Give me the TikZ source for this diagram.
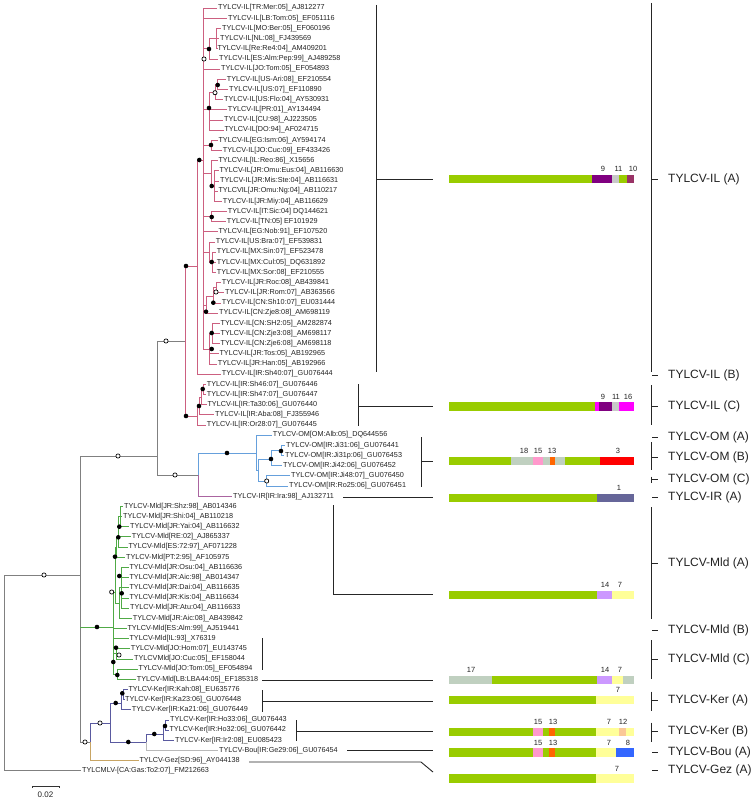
\documentclass[tikz,border=0pt]{standalone}
\usepackage{fontspec}
\setmainfont{Liberation Sans}
\definecolor{cIL}{RGB}{204,96,128}
\definecolor{cOM}{RGB}{102,160,220}
\definecolor{cIR}{RGB}{170,100,160}
\definecolor{cMld}{RGB}{80,170,70}
\definecolor{cKer}{RGB}{90,90,160}
\definecolor{cBou}{RGB}{185,185,185}
\definecolor{cGez}{RGB}{200,165,100}
\definecolor{cGr}{RGB}{128,128,128}
\definecolor{txt}{RGB}{35,35,35}
\definecolor{bGreen}{RGB}{153,204,0}
\definecolor{bPurple}{RGB}{128,0,128}
\definecolor{bLGrey}{RGB}{200,200,200}
\definecolor{bRasp}{RGB}{153,51,102}
\definecolor{bMag}{RGB}{255,0,255}
\definecolor{bGG}{RGB}{192,208,192}
\definecolor{bPink}{RGB}{255,153,204}
\definecolor{bOrange}{RGB}{255,102,0}
\definecolor{bRed}{RGB}{255,0,0}
\definecolor{bSlate}{RGB}{102,102,153}
\definecolor{bLav}{RGB}{204,153,255}
\definecolor{bYellow}{RGB}{255,255,153}
\definecolor{bPeach}{RGB}{250,200,150}
\definecolor{bBlue}{RGB}{51,102,255}
\newcommand\bseg[4]{\fill[#4] ({#1},{#3-4.2}) rectangle ({#2},{#3+4.2});}
\newcommand\lf[4]{\node[leaf] (#1) at ({#2-0.8},#3) {#4};}
\begin{document}
\begin{tikzpicture}[x=1pt,y=-1pt,
  leaf/.style={anchor=west,inner xsep=0.8pt,inner ysep=0pt,font=\fontsize{7.25}{8}\selectfont,text=txt},
  tr/.style={line width=0.75pt},
  fc/.style={circle,fill=black,inner sep=0pt,minimum size=4.6pt},
  oc/.style={circle,draw=black,fill=white,line width=0.7pt,inner sep=0pt,minimum size=4.2pt},
  cn/.style={line width=0.9pt,draw=black!85},
  grp/.style={anchor=west,inner sep=0pt,font=\fontsize{12}{14}\selectfont,text=txt},
  num/.style={inner sep=0pt,font=\fontsize{7.5}{9}\selectfont,text=txt}]
\useasboundingbox (0,0) rectangle (755,800);
\fill[white] (0,0) rectangle (755,800);

% ---------- leaves ----------
\lf{L1}{218}{8.0}{TYLCV-IL[TR:Mer:05]\_AJ812277}
\lf{L2}{228}{18.2}{TYLCV-IL[LB:Tom:05]\_EF051116}
\lf{L3}{222}{28.3}{TYLCV-IL[MO:Ber:05]\_EF060196}
\lf{L4}{220}{38.5}{TYLCV-IL[NL:08]\_FJ439569}
\lf{L5}{217.5}{48.7}{TYLCV-IL[Re:Re4:04]\_AM409201}
\lf{L6}{219}{58.9}{TYLCV-IL[ES:Alm:Pep:99]\_AJ489258}
\lf{L7}{221}{69.0}{TYLCV-IL[JO:Tom:05]\_EF054893}
\lf{L8}{226.7}{79.2}{TYLCV-IL[US-Ari:08]\_EF210554}
\lf{L9}{229}{89.4}{TYLCV-IL[US:07]\_EF110890}
\lf{L10}{224}{99.5}{TYLCV-IL[US:Flo:04]\_AY530931}
\lf{L11}{227.7}{109.7}{TYLCV-IL[PR:01]\_AY134494}
\lf{L12}{224}{119.9}{TYLCV-IL[CU:98]\_AJ223505}
\lf{L13}{224.3}{130.0}{TYLCV-IL[DO:94]\_AF024715}
\lf{L14}{218.3}{140.2}{TYLCV-IL[EG:Ism:06]\_AY594174}
\lf{L15}{222.7}{150.4}{TYLCV-IL[JO:Cuc:09]\_EF433426}
\lf{L16}{218.3}{160.6}{TYLCV-IL[IL:Reo:86]\_X15656}
\lf{L17}{219.3}{170.7}{TYLCV-IL[JR:Omu:Eus:04]\_AB116630}
\lf{L18}{220}{180.9}{TYLCV-IL[JR:Mis:Ste:04]\_AB116631}
\lf{L19}{218.3}{191.1}{TYLCVIL[JR:Omu:Ng:04]\_AB110217}
\lf{L20}{222.7}{201.2}{TYLCV-IL[JR:Miy:04]\_AB116629}
\lf{L21}{227.7}{211.4}{TYLCV-IL[IT:Sic:04] DQ144621}
\lf{L22}{226.7}{221.6}{TYLCV-IL[TN:05] EF101929}
\lf{L23}{218.3}{231.7}{TYLCV-IL[EG:Nob:91]\_EF107520}
\lf{L24}{215.7}{241.9}{TYLCV-IL[US:Bra:07]\_EF539831}
\lf{L25}{216.7}{252.1}{TYLCV-IL[MX:Sin:07]\_EF523478}
\lf{L26}{216.7}{262.3}{TYLCV-IL[MX:Cul:05]\_DQ631892}
\lf{L27}{216.7}{272.4}{TYLCV-IL[MX:Sor:08]\_EF210555}
\lf{L28}{221.7}{282.6}{TYLCV-IL[JR:Roc:08]\_AB439841}
\lf{L29}{225}{292.8}{TYLCV-IL[JR:Rom:07]\_AB363566}
\lf{L30}{221.7}{302.9}{TYLCV-IL[CN:Sh10:07]\_EU031444}
\lf{L31}{219}{313.1}{TYLCV-IL[CN:Zje8:08]\_AM698119}
\lf{L32}{220.5}{323.3}{TYLCV-IL[CN:SH2:05]\_AM282874}
\lf{L33}{220.5}{333.4}{TYLCV-IL[CN:Zje3:08]\_AM698117}
\lf{L34}{220.5}{343.6}{TYLCV-IL[CN:Zje6:08]\_AM698118}
\lf{L35}{219.3}{353.8}{TYLCV-IL[JR:Tos:05]\_AB192965}
\lf{L36}{217.7}{364.0}{TYLCV-IL[JR:Han:05]\_AB192966}
\lf{L37}{221.7}{374.1}{TYLCV-IL[IR:Sh40:07]\_GU076444}
\lf{L38}{206.7}{384.3}{TYLCV-IL[IR:Sh46:07]\_GU076446}
\lf{L39}{206.7}{394.5}{TYLCV-IL[IR:Sh47:07]\_GU076447}
\lf{L40}{207.3}{404.6}{TYLCV-IL[IR:Ta30:06]\_GU076440}
\lf{L41}{215}{414.8}{TYLCV-IL[IR:Aba:08]\_FJ355946}
\lf{L42}{206.7}{425.0}{TYLCV-IL[IR:Or28:07]\_GU076445}
\lf{L43}{272.7}{435.1}{TYLCV-OM[OM:Alb:05]\_DQ644556}
\lf{L44}{286}{445.3}{TYLCV-OM[IR:Ji31:06]\_GU076441}
\lf{L45}{285}{455.5}{TYLCV-OM[IR:Ji31p:06]\_GU076453}
\lf{L46}{283}{465.7}{TYLCV-OM[IR:Ji42:06]\_GU076452}
\lf{L47}{291}{475.8}{TYLCV-OM[IR:Ji48:07]\_GU076450}
\lf{L48}{289}{486.0}{TYLCV-OM[IR:Ro25:06]\_GU076451}
\lf{L49}{233}{496.2}{TYLCV-IR[IR:Ira:98]\_AJ132711}
\lf{L50}{124}{506.3}{TYLCV-Mld[JR:Shz:98]\_AB014346}
\lf{L51}{123}{516.5}{TYLCV-Mld[JR:Shi:04]\_AB110218}
\lf{L52}{130}{526.7}{TYLCV-Mld[JR:Yai:04]\_AB116632}
\lf{L53}{131.7}{536.8}{TYLCV-Mld[RE:02]\_AJ865337}
\lf{L54}{128.3}{547.0}{TYLCV-Mld[ES:72:97]\_AF071228}
\lf{L55}{126}{557.2}{TYLCV-Mld[PT:2:95]\_AF105975}
\lf{L56}{129.3}{567.4}{TYLCV-Mld[JR:Osu:04]\_AB116636}
\lf{L57}{129.3}{577.5}{TYLCV-Mld[JR:Aic:98]\_AB014347}
\lf{L58}{129.3}{587.7}{TYLCV-Mld[JR:Dai:04]\_AB116635}
\lf{L59}{129.3}{597.9}{TYLCV-Mld[JR:Kis:04]\_AB116634}
\lf{L60}{130}{608.0}{TYLCV-Mld[JR:Atu:04]\_AB116633}
\lf{L61}{132.7}{618.2}{TYLCV-Mld[JR:Aic:08]\_AB439842}
\lf{L62}{127.3}{628.4}{TYLCV-Mld[ES:Alm:99]\_AJ519441}
\lf{L63}{129.3}{638.5}{TYLCV-Mld[IL:93]\_X76319}
\lf{L64}{130.7}{648.7}{TYLCV-Mld[JO:Hom:07]\_EU143745}
\lf{L65}{134}{658.9}{TYLCVMld[JO:Cuc:05]\_EF158044}
\lf{L66}{138.5}{669.1}{TYLCV-Mld[JO:Tom:05]\_EF054894}
\lf{L67}{136.7}{679.2}{TYLCV-Mld[LB:LBA44:05]\_EF185318}
\lf{L68}{128.3}{689.4}{TYLCV-Ker[IR:Kah:08]\_EU635776}
\lf{L69}{125}{699.6}{TYLCV-Ker[IR:Ka23:06]\_GU076448}
\lf{L70}{131.7}{709.7}{TYLCV-Ker[IR:Ka21:06]\_GU076449}
\lf{L71}{170}{719.9}{TYLCV-Ker[IR:Ho33:06]\_GU076443}
\lf{L72}{169.3}{730.1}{TYLCV-Ker[IR:Ho32:06]\_GU076442}
\lf{L73}{175}{740.2}{TYLCV-Ker[IR:Ir2:08]\_EU085423}
\lf{L74}{219}{750.4}{TYLCV-Bou[IR:Ge29:06]\_GU076454}
\lf{L75}{139.3}{760.6}{TYLCV-Gez[SD:96]\_AY044138}
\lf{L76}{82}{770.8}{TYLCMLV-[CA:Gas:To2:07]\_FM212663}

% ---------- internal nodes ----------
\coordinate (R) at (4,575);
\coordinate (N80) at (80,575);
\coordinate (ILOMIR) at (157,456);
\coordinate (ILr) at (185,341);
\coordinate (ILAB) at (197,266);
\coordinate (ILA) at (203,160);
\coordinate (a1) at (209,48.7);
\coordinate (a1b) at (216.5,38.5);
\coordinate (b) at (209,109.7);
\coordinate (b1) at (215,92.5);
\coordinate (b2) at (217.7,84.3);
\coordinate (c) at (211,145.3);
\coordinate (d) at (211,173.3);
\coordinate (d1) at (214,186);
\coordinate (e) at (211.5,216.5);
\coordinate (f) at (209,252);
\coordinate (f1) at (212,262.3);
\coordinate (g) at (206,305);
\coordinate (g2) at (213,296);
\coordinate (g3) at (216,287.7);
\coordinate (h) at (209,349);
\coordinate (h1) at (212,333.4);
\coordinate (ILC) at (197,416);
\coordinate (c1) at (199,406);
\coordinate (c2) at (201,397);
\coordinate (c3) at (203,389.4);
\coordinate (OMIR) at (198,475);
\coordinate (OM) at (256,453);
\coordinate (om1) at (258,470);
\coordinate (om2) at (271,459);
\coordinate (om4) at (281,450.4);
\coordinate (om3) at (266.7,481);
\coordinate (Mld) at (113,627);
\coordinate (MldA) at (115,592);
\coordinate (m1) at (116.5,547);
\coordinate (m4) at (118.5,537);
\coordinate (m6) at (120.5,516.5);
\coordinate (m2) at (119,603);
\coordinate (m3) at (121,587.7);
\coordinate (MldC) at (113.5,666);
\coordinate (mc1) at (116,653.8);
\coordinate (mc2) at (117,674.2);
\coordinate (K) at (90,742);
\coordinate (K1) at (110,723);
\coordinate (KerA) at (121.7,703);
\coordinate (ka1) at (123.5,694.5);
\coordinate (KB) at (146.7,742);
\coordinate (KerB) at (163.3,734);
\coordinate (kb1) at (165.5,725);

% ---------- branches ----------
\begin{scope}[tr]
\draw[cGr] (R) |- (N80);
\draw[cGr] (R) |- (L76);
\draw[cGr] (N80) |- (ILOMIR);
\draw[cGr] (N80) |- (K);
\draw[cMld] (N80 |- Mld) -- (Mld);
\draw[cGr] (ILOMIR) |- (ILr);
\draw[cGr] (ILOMIR) |- (OMIR);
% IL
\foreach \c in {ILAB,ILC} \draw[cIL] (ILr) |- (\c);
\foreach \c in {ILA,L37} \draw[cIL] (ILAB) |- (\c);
\foreach \c in {L1,L2,a1,L7,b,c,d,e,L23,f,g,h} \draw[cIL] (ILA) |- (\c);
\foreach \c in {a1b,L6} \draw[cIL] (a1) |- (\c);
\foreach \c in {L3,L4,L5} \draw[cIL] (a1b) |- (\c);
\foreach \c in {b1,L11,L12,L13} \draw[cIL] (b) |- (\c);
\foreach \c in {b2,L10} \draw[cIL] (b1) |- (\c);
\foreach \c in {L8,L9} \draw[cIL] (b2) |- (\c);
\foreach \c in {L14,L15} \draw[cIL] (c) |- (\c);
\foreach \c in {L16,d1} \draw[cIL] (d) |- (\c);
\foreach \c in {L17,L18,L19,L20} \draw[cIL] (d1) |- (\c);
\foreach \c in {L21,L22} \draw[cIL] (e) |- (\c);
\foreach \c in {L24,f1} \draw[cIL] (f) |- (\c);
\foreach \c in {L25,L26,L27} \draw[cIL] (f1) |- (\c);
\foreach \c in {g2,L31} \draw[cIL] (g) |- (\c);
\foreach \c in {g3,L30} \draw[cIL] (g2) |- (\c);
\foreach \c in {L28,L29} \draw[cIL] (g3) |- (\c);
\foreach \c in {h1,L35,L36} \draw[cIL] (h) |- (\c);
\foreach \c in {L32,L33,L34} \draw[cIL] (h1) |- (\c);
\foreach \c in {c1,L42} \draw[cIL] (ILC) |- (\c);
\foreach \c in {c2,L41} \draw[cIL] (c1) |- (\c);
\foreach \c in {c3,L40} \draw[cIL] (c2) |- (\c);
\foreach \c in {L38,L39} \draw[cIL] (c3) |- (\c);
% OM / IR
\draw[cOM] (OMIR) |- (OM);
\draw[cIR] (OMIR) |- (L49);
\foreach \c in {L43,om1} \draw[cOM] (OM) |- (\c);
\foreach \c in {om2,om3} \draw[cOM] (om1) |- (\c);
\foreach \c in {om4,L46} \draw[cOM] (om2) |- (\c);
\foreach \c in {L44,L45} \draw[cOM] (om4) |- (\c);
\foreach \c in {L47,L48} \draw[cOM] (om3) |- (\c);
% Mld
\foreach \c in {MldA,L62,MldC} \draw[cMld] (Mld) |- (\c);
\foreach \c in {m1,m2} \draw[cMld] (MldA) |- (\c);
\foreach \c in {m4,L55} \draw[cMld] (m1) |- (\c);
\foreach \c in {m6,L53,L54} \draw[cMld] (m4) |- (\c);
\foreach \c in {L50,L51,L52} \draw[cMld] (m6) |- (\c);
\foreach \c in {m3,L61} \draw[cMld] (m2) |- (\c);
\foreach \c in {L56,L57,L58,L59,L60} \draw[cMld] (m3) |- (\c);
\foreach \c in {L63,mc1,mc2} \draw[cMld] (MldC) |- (\c);
\foreach \c in {L64,L65} \draw[cMld] (mc1) |- (\c);
\foreach \c in {L66,L67} \draw[cMld] (mc2) |- (\c);
% Ker / Bou / Gez
\draw[cKer] (K) |- (K1);
\draw[cGez] (K) |- (L75);
\foreach \c in {KerA,KB} \draw[cKer] (K1) |- (\c);
\foreach \c in {ka1,L70} \draw[cKer] (KerA) |- (\c);
\foreach \c in {L68,L69} \draw[cKer] (ka1) |- (\c);
\draw[cKer] (KB) |- (KerB);
\draw[cBou] (KB) |- (L74);
\foreach \c in {kb1,L73} \draw[cKer] (KerB) |- (\c);
\foreach \c in {L71,L72} \draw[cKer] (kb1) |- (\c);
\end{scope}

% ---------- support circles ----------
\foreach \p in {(97,627),(115.7,703),(122.3,693.3),(128.3,742),(154.3,734),(165,726),
  (115,556.7),(118.3,537.3),(119.3,526.7),(119.3,576),(121.7,593.3),(116,647.7),(113.3,662),(117.3,675),
  (227,453),(271,459),(281,451),(186,266),(186,416),(199,406),(202.7,389),(199.3,160),
  (209,49),(217.7,85),(209,108),(211,145),(211.7,186),(211.7,217),(211.7,262),(213.3,302.7),
  (206,311.7),(211.7,333),(211.7,349)}
  \node[fc] at \p {};
\foreach \p in {(44,575),(118,456),(85,742),(100,723),(111.7,592),(119,655),(166,341),(175,475),
  (266.7,481),(204,59),(215,92.7),(216,292)}
  \node[oc] at \p {};

% ---------- scale bar ----------
\coordinate (sb1) at (32.3,786);
\coordinate (sb2) at (59.3,786);
\draw[line width=0.7pt,black!80] ([yshift=-2]sb1) -- (sb1) -- (sb2) -- ([yshift=-2]sb2);
\node[num,font=\fontsize{8}{9}\selectfont] (sbl) at (45.5,794.5) {0.02};

% ---------- connectors to bars ----------
\coordinate (kA) at (376,5);   \coordinate (kA2) at (376,372); \coordinate (kAm) at (376,179); \coordinate (eA) at (433,179);
\coordinate (kC) at (358,384); \coordinate (kC2) at (358,426); \coordinate (kCm) at (358,406.5); \coordinate (eC) at (433,406.5);
\coordinate (kO) at (421,437); \coordinate (kO2) at (421,487); \coordinate (kOm) at (421,461); \coordinate (eO) at (433,461);
\coordinate (kI) at (343,497.5); \coordinate (eI) at (433,497.5);
\coordinate (kM) at (333,505); \coordinate (kMm) at (333,594); \coordinate (eM) at (433,594);
\coordinate (kMC) at (262,638); \coordinate (kMC2) at (262,670);
\coordinate (kMCh) at (262,680); \coordinate (eMC) at (433,680);
\coordinate (kKA) at (262,690); \coordinate (kKA2) at (262,712); \coordinate (kKAm) at (262,701); \coordinate (eKA) at (433,701);
\coordinate (kKB) at (296,720); \coordinate (kKB2) at (296,741); \coordinate (kKBm) at (296,731); \coordinate (eKB) at (433,731);
\coordinate (kB) at (347,750.5); \coordinate (eB) at (433,750.5);
\coordinate (kG) at (249,762); \coordinate (kGm) at (421,762); \coordinate (eG) at (433,772);
\begin{scope}[cn]
\draw (kA) -- (kA2); \draw (kAm) -- (eA);
\draw (kC) -- (kC2); \draw (kCm) -- (eC);
\draw (kO) -- (kO2); \draw (kOm) -- (eO);
\draw (kI) -- (eI);
\draw (kM) -- (kMm) -- (eM);
\draw (kMC) -- (kMC2); \draw (kMCh) -- (eMC);
\draw (kKA) -- (kKA2); \draw (kKAm) -- (eKA);
\draw (kKB) -- (kKB2); \draw (kKBm) -- (eKB);
\draw (kB) -- (eB);
\draw (kG) -- (kGm) -- (eG);
\end{scope}

% ---------- bars ----------
% IL(A)
\bseg{449}{592}{179}{bGreen}\bseg{592}{612}{179}{bPurple}\bseg{612}{619}{179}{bLGrey}\bseg{619}{627}{179}{bGreen}\bseg{627}{634}{179}{bRasp}
\node[num] at (603,169) {9}; \node[num] at (618.5,169) {11}; \node[num] at (633,169) {10};
% IL(C)
\bseg{449}{595}{406.5}{bGreen}\bseg{595}{599}{406.5}{bMag}\bseg{599}{612}{406.5}{bPurple}\bseg{612}{619}{406.5}{bLGrey}\bseg{619}{634}{406.5}{bMag}
\node[num] at (603,396.7) {9}; \node[num] at (616,396.7) {11}; \node[num] at (628,396.7) {16};
% OM(B)
\bseg{449}{511}{461}{bGreen}\bseg{511}{533}{461}{bGG}\bseg{533}{543}{461}{bPink}\bseg{543}{550}{461}{bGG}\bseg{550}{555}{461}{bOrange}\bseg{555}{565}{461}{bGG}\bseg{565}{600}{461}{bGreen}\bseg{600}{634}{461}{bRed}
\node[num] at (524,451) {18}; \node[num] at (538,451) {15}; \node[num] at (552,451) {13}; \node[num] at (618,451) {3};
% IR(A)
\bseg{449}{597}{498}{bGreen}\bseg{597}{634}{498}{bSlate}
\node[num] at (619,488) {1};
% Mld(A)
\bseg{449}{597}{595}{bGreen}\bseg{597}{612}{595}{bLav}\bseg{612}{634}{595}{bYellow}
\node[num] at (605,585) {14}; \node[num] at (620,585) {7};
% Mld(C)
\bseg{449}{492}{680}{bGG}\bseg{492}{597}{680}{bGreen}\bseg{597}{612}{680}{bLav}\bseg{612}{623}{680}{bYellow}\bseg{623}{634}{680}{bGG}
\node[num] at (471,670) {17}; \node[num] at (605,670) {14}; \node[num] at (620,670) {7};
% Ker(A)
\bseg{449}{596}{700}{bGreen}\bseg{596}{634}{700}{bYellow}
\node[num] at (618,690) {7};
% Ker(B)
\bseg{449}{533}{732}{bGreen}\bseg{533}{543}{732}{bPink}\bseg{543}{549}{732}{bGreen}\bseg{549}{555}{732}{bOrange}\bseg{555}{596}{732}{bGreen}\bseg{596}{619}{732}{bYellow}\bseg{619}{626}{732}{bPeach}\bseg{626}{634}{732}{bYellow}
\node[num] at (538,722) {15}; \node[num] at (553,722) {13}; \node[num] at (609,722) {7}; \node[num] at (623,722) {12};
% Bou(A)
\bseg{449}{533}{752.5}{bGreen}\bseg{533}{543}{752.5}{bPink}\bseg{543}{549}{752.5}{bGreen}\bseg{549}{555}{752.5}{bOrange}\bseg{555}{596}{752.5}{bGreen}\bseg{596}{616}{752.5}{bYellow}\bseg{616}{634}{752.5}{bBlue}
\node[num] at (538,742.7) {15}; \node[num] at (553,742.7) {13}; \node[num] at (609,742.7) {7}; \node[num] at (628,742.7) {8};
% Gez(A)
\bseg{449}{596}{778.5}{bGreen}\bseg{596}{634}{778.5}{bYellow}
\node[num] at (617,769) {7};

% ---------- group labels ----------
\node[grp] (gILA) at (668,179) {TYLCV-IL (A)};
\node[grp] (gILB) at (668,375) {TYLCV-IL (B)};
\node[grp] (gILC) at (668,406.7) {TYLCV-IL (C)};
\node[grp] (gOMA) at (668,437.7) {TYLCV-OM (A)};
\node[grp] (gOMB) at (668,457) {TYLCV-OM (B)};
\node[grp] (gOMC) at (668,479.5) {TYLCV-OM (C)};
\node[grp] (gIRA) at (668,497.3) {TYLCV-IR (A)};
\node[grp] (gMA) at (668,563) {TYLCV-Mld (A)};
\node[grp] (gMB) at (668,630) {TYLCV-Mld (B)};
\node[grp] (gMC) at (668,659) {TYLCV-Mld (C)};
\node[grp] (gKA) at (668,700.7) {TYLCV-Ker (A)};
\node[grp] (gKB) at (668,731.7) {TYLCV-Ker (B)};
\node[grp] (gBA) at (668,752.7) {TYLCV-Bou (A)};
\node[grp] (gGA) at (668,770.7) {TYLCV-Gez (A)};
\begin{scope}[cn]
\draw (651,3) -- (651,372); \draw (651,179) -- ([xshift=-10]gILA.west);
\draw (652,375) -- ([xshift=-10]gILB.west);
\draw (651,385) -- (651,425); \draw (651,406.7) -- ([xshift=-10]gILC.west);
\draw (652,437.7) -- ([xshift=-10]gOMA.west);
\draw (651,442) -- (651,470); \draw (651,457) -- ([xshift=-10]gOMB.west);
\draw (651,476.5) -- (651,482.5); \draw (651,479.5) -- ([xshift=-10]gOMC.west);
\draw (652,497.3) -- ([xshift=-10]gIRA.west);
\draw (651,507) -- (651,619); \draw (651,563) -- ([xshift=-10]gMA.west);
\draw (652,630) -- ([xshift=-10]gMB.west);
\draw (651,640) -- (651,679); \draw (651,659) -- ([xshift=-10]gMC.west);
\draw (651,691.7) -- (651,710.7); \draw (651,700.7) -- ([xshift=-10]gKA.west);
\draw (651,722.7) -- (651,741.7); \draw (651,731.7) -- ([xshift=-10]gKB.west);
\draw (652,752.7) -- ([xshift=-10]gBA.west);
\draw (652,770.7) -- ([xshift=-10]gGA.west);
\end{scope}
\end{tikzpicture}
\end{document}
